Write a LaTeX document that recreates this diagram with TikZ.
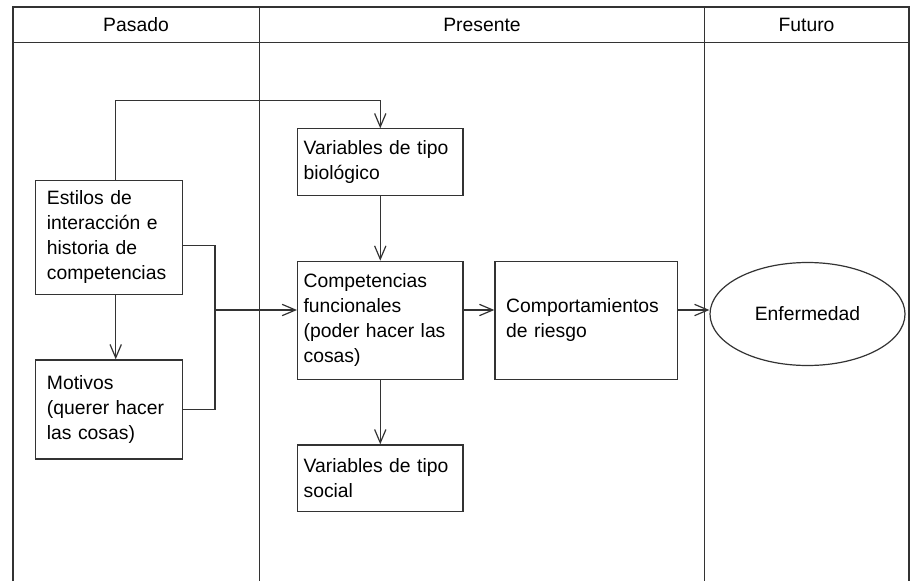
\documentclass[tikz,border=0pt]{standalone}
\usepackage{fontspec}
\setmainfont{Liberation Sans}
\usepackage{tikz}
\usetikzlibrary{arrows.meta,shapes.geometric,calc}

\tikzset{
  lane/.style={line width=0.9pt, draw=black!80},
  arr/.style={lane, -{Straight Barb[length=10pt,width=8.5pt,line width=0.9pt]}},
  stagebox/.style={lane, rectangle, anchor=north west, align=left, inner ysep=0pt},
  wide/.style={stagebox, inner xsep=8.5pt},
  narrow/.style={stagebox, inner xsep=4.5pt}
}

\begin{document}
\begin{tikzpicture}[x=0.75pt, y=-0.75pt, font=\fontsize{14.5}{18.75}\selectfont]
  \useasboundingbox (0,0) rectangle (912,581);
  \draw[lane] (13,581) -- (13,7) -- (909,7) -- (909,581);
  \draw[lane] (13,42.7) -- (909,42.7);
  \draw[lane] (259.3,7) -- (259.3,581);
  \draw[lane] (704.3,7) -- (704.3,581);

  \node (pasado) at (136,25) {Pasado};
  \node (presente) at (482,25) {Presente};
  \node (futuro) at (806.5,25) {Futuro};

  \node[wide, text width=93.25pt, minimum height=85.3pt] (estilos) at (35,180)
    {Estilos de\\interacción e\\historia de\\competencias};
  \node[wide, text width=93.25pt, minimum height=74.25pt] (motivos) at (35,359.3)
    {Motivos\\(querer hacer\\las cosas)};
  \node[narrow, text width=115pt, minimum height=50pt] (bio) at (297,128.3)
    {Variables de tipo\\biológico};
  \node[narrow, text width=115pt, minimum height=88.7pt] (comp) at (297,260.7)
    {Competencias\\funcionales\\(poder hacer las\\cosas)};
  \node[narrow, text width=115pt, minimum height=49.8pt] (social) at (297,444.3)
    {Variables de tipo\\social};
  \node[wide, text width=119.8pt, minimum height=88.7pt] (riesgo) at (494.3,260.7)
    {Comportamientos\\de riesgo};
  \node[lane, ellipse, inner sep=0pt, minimum width=146.25pt, minimum height=77.25pt]
    (enf) at (807.5,314) {Enfermedad};

  \coordinate (top) at (115.7,100.7);
  \coordinate (merge) at (215,310);
  \draw[arr] (estilos.north -| top) -- (top) -| (bio.north);
  \draw[arr] (estilos.south -| top) -- (motivos.north -| top);
  \draw[lane] ([yshift=-6pt]estilos.east) -| (merge) |- (motivos.east);
  \draw[arr] (merge) -- (merge -| comp.west);
  \draw[arr] (bio.south) -- (comp.north);
  \draw[arr] (comp.south) -- (social.north);
  \draw[arr] (merge -| comp.east) -- (merge -| riesgo.west);
  \draw[arr] (merge -| riesgo.east) -- (merge -| enf.west);
\end{tikzpicture}
\end{document}
